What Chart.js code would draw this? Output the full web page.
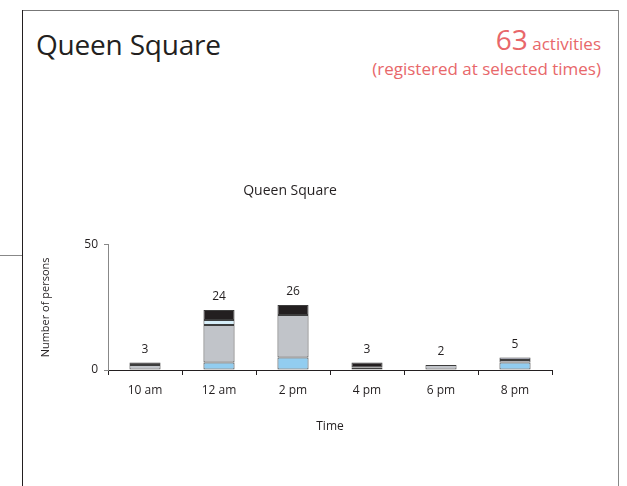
<!DOCTYPE html>
<html>
<head>
<meta charset="utf-8">
<script src="https://cdn.jsdelivr.net/npm/chart.js@4"></script>
<style>
  html, body { margin: 0; padding: 0; background: #fff; }
  #wrap { position: relative; width: 627px; height: 486px; overflow: hidden; font-family: "Open Sans", sans-serif; }
  #chart { position: absolute; left: 0; top: 0; }
  .frame-top { position: absolute; left: 22px; top: 10px; width: 597px; height: 1px; background: #777; }
  .frame-left { position: absolute; left: 22px; top: 10px; width: 1px; height: 476px; background: #231f20; }
  .frame-right { position: absolute; left: 618px; top: 10px; width: 1px; height: 476px; background: #888; }
  .side-line { position: absolute; left: 0; top: 255px; width: 22px; height: 1px; background: #888; }
  .title { position: absolute; left: 36px; top: 25px; font-size: 28px; color: #231f20; letter-spacing: -0.2px; }
  .count { position: absolute; right: 26px; top: 27px; color: #e8676a; text-align: right; font-size: 17px; line-height: 25px; }
  .count b { font-weight: normal; font-size: 28px; }
</style>
</head>
<body>
<div id="wrap">
  <div class="frame-top"></div>
  <div class="frame-left"></div>
  <div class="frame-right"></div>
  <div class="side-line"></div>
  <div class="title">Queen Square</div>
  <div class="count"><b>63</b> activities<br>(registered at selected times)</div>
  <canvas id="chart" width="627" height="486"></canvas>
</div>
<script>
const horarios = ["10 am", "12 am", "2 pm", "4 pm", "6 pm", "8 pm"];
const azul = [0, 3, 5, 0, 0, 3];
const cinza = [2, 15, 17, 1, 2, 1];
const lilas = [0, 0, 0, 0, 0, 1];
const azulClaro = [0, 2, 0, 0, 0, 0];
const preto = [1, 4, 4, 2, 0, 0];
const ticksY = [0, 50];

const series = [
  { label: "A", data: azul, backgroundColor: "#92cdf0" },
  { label: "B", data: cinza, backgroundColor: "#c1c4c9" },
  { label: "C", data: lilas, backgroundColor: "#a5a8bd" },
  { label: "D", data: azulClaro, backgroundColor: "#d6eef9" },
  { label: "E", data: preto, backgroundColor: "#231f20" },
];

// total em cima de cada barra
const totais = {
  id: "totais",
  afterDatasetsDraw(chart) {
    const ctx = chart.ctx;
    const x = chart.scales.x;
    const y = chart.scales.y;
    ctx.save();
    ctx.font = '12px "Open Sans"';
    ctx.fillStyle = "#231f20";
    ctx.textAlign = "center";
    ctx.textBaseline = "middle";
    horarios.forEach((h, i) => {
      let total = 0;
      series.forEach((s) => { total += s.data[i]; });
      ctx.fillText(String(total), x.getPixelForValue(i), y.getPixelForValue(total) - 13);
    });
    ctx.restore();
  },
};

const grafico = new Chart(document.getElementById("chart"), {
  type: "bar",
  data: {
    labels: horarios,
    datasets: series.map((s) => ({
      label: s.label,
      data: s.data,
      backgroundColor: s.backgroundColor,
      borderColor: "#3d3d3d",
      borderWidth: 1,
      borderSkipped: false,
      categoryPercentage: 1,
      barPercentage: 0.42,
    })),
  },
  options: {
    responsive: false,
    animation: false,
    layout: { padding: { left: 28, right: 75, top: 0, bottom: 52 } },
    plugins: {
      legend: { display: false },
      tooltip: { enabled: false },
      title: {
        display: true,
        text: "Queen Square",
        color: "#231f20",
        font: { family: "Open Sans", size: 14, weight: "normal" },
        padding: { top: 183, bottom: 45 },
      },
    },
    scales: {
      x: {
        stacked: true,
        offset: true,
        grid: { offset: true, drawOnChartArea: false, tickLength: 5, color: "#231f20" },
        border: { color: "#231f20" },
        ticks: { color: "#231f20", font: { family: "Open Sans", size: 12 }, padding: 8 },
        title: { display: true, text: "Time", color: "#231f20", font: { family: "Open Sans", size: 12 }, padding: 0 },
        afterFit(scale) { scale.height = 64; },
      },
      y: {
        stacked: true,
        min: 0,
        max: 50,
        afterBuildTicks(scale) { scale.ticks = ticksY.map((v) => ({ value: v })); },
        grid: { drawOnChartArea: false, tickLength: 4, color: "#888" },
        border: { color: "#888" },
        ticks: { color: "#231f20", font: { family: "Open Sans", size: 12 }, padding: 6 },
        title: { display: true, text: "Number of persons", color: "#231f20", font: { family: "Open Sans", size: 11 }, padding: { top: 11 } },
        afterFit(scale) { scale.width = 80; },
      },
    },
  },
  plugins: [totais],
});
</script>
</body>
</html>
